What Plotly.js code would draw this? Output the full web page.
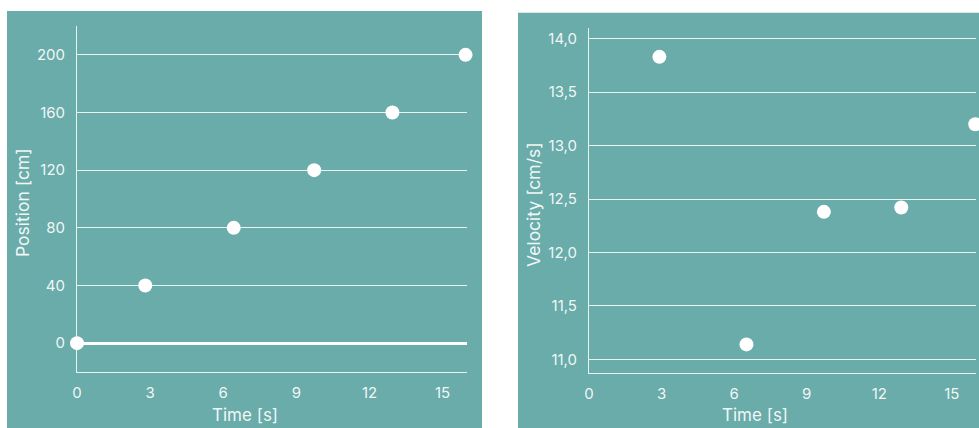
<!DOCTYPE html>
<html>
<head>
<meta charset="utf-8">
<script src="https://cdn.plot.ly/plotly-3.0.1.min.js"></script>
<style>
html,body{margin:0;padding:0;background:#fff;}
#chart{width:979px;height:428px;}
</style>
</head>
<body>
<div id="chart"></div>
<script>
// Position vs time (left panel)
const posTime = [0, 2.8, 6.43, 9.73, 12.94, 15.94];
const posValues = [0, 40, 80, 120, 160, 200];
// Velocity vs time (right panel)
const velTime = [2.91, 6.51, 9.71, 12.91, 15.97];
const velValues = [13.83, 11.14, 12.38, 12.42, 13.2];
// Tick labels
const xTicks = [0, 3, 6, 9, 12, 15];
const posTicks = [0, 40, 80, 120, 160, 200];
const velTicks = [11.0, 11.5, 12.0, 12.5, 13.0, 13.5, 14.0];
const velTickText = ['11,0', '11,5', '12,0', '12,5', '13,0', '13,5', '14,0'];
const xTitle = 'Time [s]';
const posTitle = 'Position [cm]';
const velTitle = 'Velocity [cm/s]';

const W = 979, H = 428;
const teal = '#6aacaa';
const grid = 'rgba(255,255,255,0.85)';
const txt = 'rgba(255,255,255,0.92)';
const font = 'Inter, Roboto, sans-serif';

const px = v => v / W;
const py = v => (H - v) / H;

const marker = {size: 14, color: '#ffffff', line: {width: 0}};

const traces = [
  {x: posTime, y: posValues, type: 'scatter', mode: 'markers', marker: marker,
   xaxis: 'x', yaxis: 'y', cliponaxis: false, hoverinfo: 'skip'},
  {x: velTime, y: velValues, type: 'scatter', mode: 'markers', marker: marker,
   xaxis: 'x2', yaxis: 'y2', cliponaxis: false, hoverinfo: 'skip'}
];

const axisCommon = {
  showline: true, linecolor: grid, linewidth: 1,
  ticks: '', tickfont: {family: font, size: 15, color: txt},
  fixedrange: true
};

const layout = {
  width: W, height: H,
  margin: {l: 0, r: 0, t: 0, b: 0, pad: 0},
  paper_bgcolor: '#ffffff',
  plot_bgcolor: 'rgba(0,0,0,0)',
  showlegend: false,
  font: {family: font, color: txt},
  xaxis: Object.assign({}, axisCommon, {
    domain: [px(77), px(467)], range: [0, 16], anchor: 'y',
    tickvals: xTicks, showgrid: false, zeroline: false, ticklabelstandoff: 7
  }),
  yaxis: Object.assign({}, axisCommon, {
    domain: [py(372), py(26)], range: [-20, 220], anchor: 'x',
    tickvals: posTicks, showgrid: true, gridcolor: grid, gridwidth: 1,
    zeroline: true, zerolinecolor: '#ffffff', zerolinewidth: 3,
    ticklabelstandoff: 8
  }),
  xaxis2: Object.assign({}, axisCommon, {
    domain: [px(589), px(976)], range: [0, 16], anchor: 'y2',
    tickvals: xTicks, showgrid: false, zeroline: false, ticklabelstandoff: 7
  }),
  yaxis2: Object.assign({}, axisCommon, {
    domain: [py(372.7), py(28)], range: [10.875, 14.1], anchor: 'x2',
    tickvals: velTicks, ticktext: velTickText, showgrid: true, gridcolor: grid, gridwidth: 1,
    zeroline: false, ticklabelstandoff: 8
  }),
  shapes: [
    {type: 'rect', xref: 'paper', yref: 'paper', x0: px(7), x1: px(482), y0: 0, y1: py(11),
     fillcolor: teal, line: {width: 0}, layer: 'below'},
    {type: 'rect', xref: 'paper', yref: 'paper', x0: px(518), x1: 1, y0: 0, y1: py(12.7),
     fillcolor: teal, line: {width: 0}, layer: 'below'}
  ],
  annotations: [
    {text: xTitle, xref: 'paper', yref: 'paper', x: px(245), y: py(415), showarrow: false,
     xanchor: 'center', yanchor: 'middle', font: {family: font, size: 17, color: txt}},
    {text: xTitle, xref: 'paper', yref: 'paper', x: px(755), y: py(415), showarrow: false,
     xanchor: 'center', yanchor: 'middle', font: {family: font, size: 17, color: txt}},
    {text: posTitle, xref: 'paper', yref: 'paper', x: px(22), y: py(203), showarrow: false,
     textangle: -90, xanchor: 'center', yanchor: 'middle', font: {family: font, size: 17.5, color: txt}},
    {text: velTitle, xref: 'paper', yref: 'paper', x: px(533), y: py(205), showarrow: false,
     textangle: -90, xanchor: 'center', yanchor: 'middle', font: {family: font, size: 17.5, color: txt}}
  ]
};

Plotly.newPlot('chart', traces, layout, {staticPlot: true, displayModeBar: false});
</script>
</body>
</html>
